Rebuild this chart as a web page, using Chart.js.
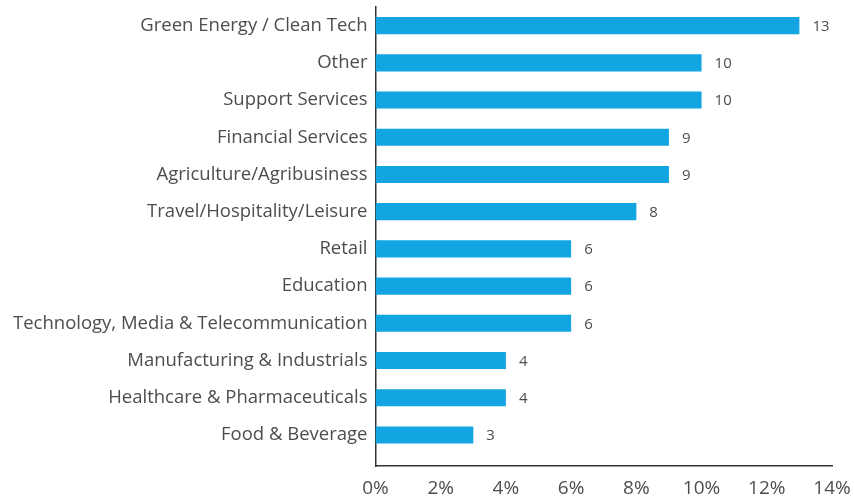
<!DOCTYPE html>
<html>
<head>
<meta charset="utf-8">
<script src="https://cdn.jsdelivr.net/npm/chart.js@4"></script>
<style>
  html, body { margin: 0; padding: 0; background: #fff; }
  #wrap { width: 854px; height: 498px; }
</style>
</head>
<body>
<div id="wrap"><canvas id="chartSectores"></canvas></div>
<script>
// categorías y valores
const sectores = [
    'Green Energy / Clean Tech',
    'Other',
    'Support Services',
    'Financial Services',
    'Agriculture/Agribusiness',
    'Travel/Hospitality/Leisure',
    'Retail',
    'Education',
    'Technology, Media & Telecommunication',
    'Manufacturing & Industrials',
    'Healthcare & Pharmaceuticals',
    'Food & Beverage'
];
const valores = [13, 10, 10, 9, 9, 8, 6, 6, 6, 4, 4, 3];
const ticksX  = [0, 2, 4, 6, 8, 10, 12, 14];

const colorBarra = '#12a5e2';
const colorTexto = '#4d4d4d';

// etiqueta con el valor al final de cada barra
const etiquetasValor = {
    id: 'etiquetasValor',
    afterDatasetsDraw(chart) {
        const ctx = chart.ctx;
        const meta = chart.getDatasetMeta(0);
        ctx.save();
        ctx.font = '15px "Open Sans"';
        ctx.fillStyle = colorTexto;
        ctx.textAlign = 'left';
        ctx.textBaseline = 'middle';
        meta.data.forEach((bar, i) => {
            ctx.fillText(String(valores[i]), bar.x + 13, bar.y + 1);
        });
        ctx.restore();
    }
};

new Chart(document.getElementById('chartSectores'), {
    type: 'bar',
    data: {
        labels: sectores,
        datasets: [{
            data: valores,
            backgroundColor: colorBarra,
            barPercentage: 0.92,
            categoryPercentage: 0.5
        }]
    },
    options: {
        indexAxis: 'y',
        responsive: true,
        maintainAspectRatio: false,
        animation: false,
        layout: { padding: { top: 0, right: 0, left: 5, bottom: -13 } },
        plugins: {
            legend: { display: false },
            tooltip: { enabled: false }
        },
        scales: {
            x: {
                min: 0,
                max: 14,
                afterBuildTicks(scale) {
                    scale.ticks = ticksX.map(v => ({ value: v }));
                },
                // el "14%" puede salirse un poco por la derecha
                afterFit(scale) { scale.paddingRight = 22; },
                grid: { display: false, drawTicks: false },
                border: { display: true, color: '#333', width: 1.5 },
                ticks: {
                    padding: 11,
                    color: colorTexto,
                    font: { family: 'Open Sans', size: 19 },
                    callback: v => v + '%'
                }
            },
            y: {
                // un poco más de espacio bajo la última barra
                afterBuildTicks(scale) { scale._valueRange += 0.34; },
                afterFit(scale) { scale.paddingTop = 7; },
                grid: { display: false, drawTicks: false },
                border: { display: true, color: '#333', width: 1.5 },
                ticks: {
                    padding: 8,
                    autoSkip: false,
                    color: colorTexto,
                    font: { family: 'Open Sans', size: 18.5 }
                }
            }
        }
    },
    plugins: [etiquetasValor]
});
</script>
</body>
</html>
